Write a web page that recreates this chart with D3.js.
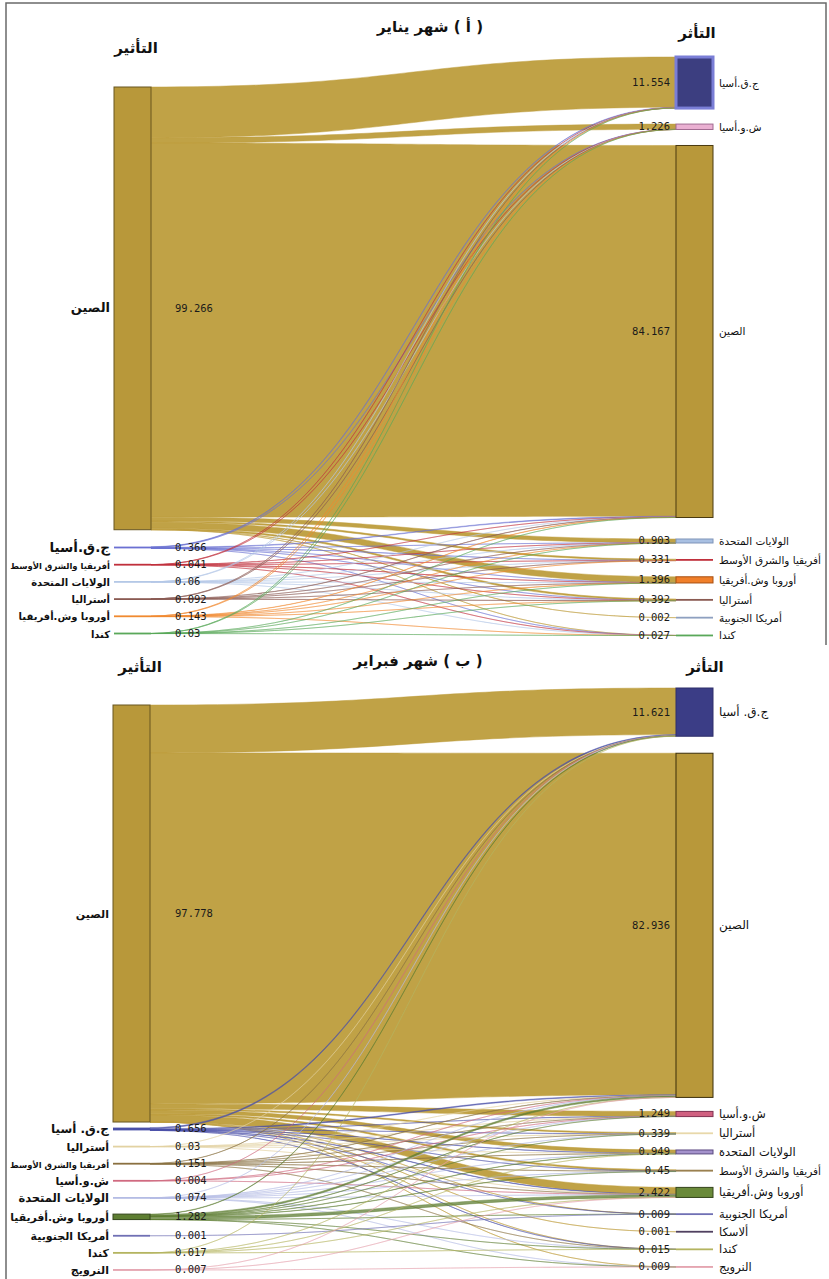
<!DOCTYPE html>
<html>
<head>
<meta charset="utf-8">
<script src="https://cdn.jsdelivr.net/npm/d3@7"></script>
<style>
body { margin: 0; background: #fff; }
</style>
</head>
<body>
<div id="screen"></div>
<script>
var width = 829;
var height = 1279;

// ---------- (a) January ----------
var leftNamesA = ["الصين", "ج.ق.أسيا", "أفريقيا والشرق الأوسط", "الولايات المتحدة", "أستراليا", "أوروبا وش.أفريقيا", "كندا"];
var leftValuesA = [99.266, 0.366, 0.041, 0.06, 0.092, 0.143, 0.03];
var rightNamesA = ["ج.ق.أسيا", "ش.و.أسيا", "الصين", "الولايات المتحدة", "أفريقيا والشرق الأوسط", "أوروبا وش.أفريقيا", "أستراليا", "أمريكا الجنوبية", "كندا"];
var rightValuesA = [11.554, 1.226, 84.167, 0.903, 0.331, 1.396, 0.392, 0.002, 0.027];
// rows = left nodes, columns = right nodes
var flowsA = [
  [11.378, 1.184, 83.890, 0.846, 0.300, 1.324, 0.333, 0.002, 0.009],
  [0.120, 0.020, 0.150, 0.020, 0.010, 0.020, 0.020, 0, 0.006],
  [0.005, 0.004, 0.012, 0.003, 0.008, 0.006, 0.002, 0, 0.001],
  [0.010, 0.003, 0.020, 0.012, 0.002, 0.006, 0.003, 0, 0.004],
  [0.012, 0.004, 0.035, 0.006, 0.003, 0.007, 0.025, 0, 0],
  [0.025, 0.010, 0.050, 0.010, 0.008, 0.030, 0.007, 0, 0.003],
  [0.004, 0.001, 0.010, 0.006, 0, 0.003, 0.002, 0, 0.004]
];
var leftColorsA = ["#b8983a", "#6b70d2", "#c0303c", "#b4c8e6", "#8a5a52", "#f08a30", "#5aa85a"];
var rightColorsA = ["#3c3e80", "#eab0d2", "#b8983a", "#a9c0e2", "#c0303c", "#f07f2a", "#8a5a52", "#8ea0c0", "#5aa85a"];
var rightStrokesA = ["#7a7ed6", "#a06a90", "#4a3a10", "#7f94b8", "#8a2028", "#a84f10", "#5a3a32", "#6a7a98", "#3a7a3a"];

// ---------- (b) February ----------
var leftNamesB = ["الصين", "ج.ق. أسيا", "أستراليا", "أفريقيا والشرق الأوسط", "ش.و.أسيا", "الولايات المتحدة", "أوروبا وش.أفريقيا", "أمريكا الجنوبية", "كندا", "النرويج"];
var leftValuesB = [97.778, 0.656, 0.03, 0.151, 0.004, 0.074, 1.282, 0.001, 0.017, 0.007];
var rightNamesB = ["ج.ق. أسيا", "الصين", "ش.و.أسيا", "أستراليا", "الولايات المتحدة", "أفريقيا والشرق الأوسط", "أوروبا وش.أفريقيا", "أمريكا الجنوبية", "ألاسكا", "كندا", "النرويج"];
var rightValuesB = [11.621, 82.936, 1.249, 0.339, 0.949, 0.45, 2.422, 0.009, 0.001, 0.015, 0.009];
var flowsB = [
  [11.234, 82.290, 1.169, 0.283, 0.813, 0.337, 1.644, 0.004, 0.001, 0.001, 0.002],
  [0.250, 0.202, 0.030, 0.020, 0.040, 0.020, 0.090, 0.002, 0, 0.002, 0],
  [0.004, 0.010, 0.001, 0.010, 0.002, 0, 0.003, 0, 0, 0, 0],
  [0.020, 0.051, 0.005, 0.004, 0.010, 0.040, 0.020, 0, 0, 0.001, 0],
  [0.001, 0.001, 0.001, 0, 0, 0, 0.001, 0, 0, 0, 0],
  [0.010, 0.025, 0.003, 0.002, 0.020, 0.003, 0.008, 0, 0, 0.002, 0.001],
  [0.100, 0.350, 0.040, 0.020, 0.060, 0.050, 0.652, 0.002, 0, 0.005, 0.003],
  [0, 0, 0, 0, 0, 0, 0, 0.001, 0, 0, 0],
  [0.002, 0.005, 0, 0, 0.004, 0, 0.002, 0, 0, 0.004, 0],
  [0, 0.002, 0, 0, 0, 0, 0.002, 0, 0, 0, 0.003]
];
var leftColorsB = ["#b8983a", "#4a50a8", "#e2d2a2", "#8a7040", "#d06a80", "#b4bce4", "#5e7e32", "#7070b4", "#b4b460", "#e4a2ae"];
var rightColorsB = ["#3b3d86", "#b8983a", "#d06080", "#e8d8aa", "#a492cc", "#9a8050", "#6a8a3a", "#7070b4", "#504060", "#b4b460", "#e4a2ae"];
var rightStrokesB = ["#2e2f6a", "#3a2e0a", "#803050", "#b0a070", "#5a4a80", "#6a5530", "#34441a", "#4a4a80", "#302438", "#7a7a30", "#a06070"];

var gold = "#bd9d3c";
var nodeW = 37;
var minH = 1.8;

var panels = [
  {
    title: "( أ ) شهر يناير", titleX: 430, titleY: 32,
    headL: "التأثير", headLX: 136, headLY: 53,
    headR: "التأثر", headRX: 697, headRY: 38,
    lNames: leftNamesA, lValues: leftValuesA, rNames: rightNamesA, rValues: rightValuesA,
    flows: flowsA, lColors: leftColorsA, rColors: rightColorsA, rStrokes: rightStrokesA,
    kL: 4.46, kR: 4.42,
    left: {x: 114, top: 87, big: 1, bigPad: 0, smallTop: 546.6, smallPad: 15.4},
    right: {x: 676, top: 57, big: 3, bigPad: 16, smallTop: 539, smallPad: 16},
    lSize: [13, 13.5, 10, 10, 10, 10, 10], rSize: 10.5, rBigSize: 10.5
  },
  {
    title: "( ب ) شهر فبراير", titleX: 418, titleY: 666,
    headL: "التأثير", headLX: 140, headLY: 672,
    headR: "التأثر", headRX: 705, headRY: 672,
    lNames: leftNamesB, lValues: leftValuesB, rNames: rightNamesB, rValues: rightValuesB,
    flows: flowsB, lColors: leftColorsB, rColors: rightColorsB, rStrokes: rightStrokesB,
    kL: 4.265, kR: 4.15,
    left: {x: 113, top: 705, big: 1, bigPad: 0, smallTop: 1127.6, smallPad: 15.3},
    right: {x: 676, top: 688, big: 2, bigPad: 17, smallTop: 1111.4, smallPad: 15.8},
    lSize: [11, 12, 11, 10, 11, 11.5, 11.5, 11, 11, 11], rSize: 11.5, rBigSize: 12
  }
];

var svg = d3.select("#screen").append("svg")
  .attr("width", width)
  .attr("height", height)
  .style("display", "block")
  .style("background", "#fff");

// frame of the scanned page
svg.append("path")
  .attr("d", "M6," + height + "L6,3L826,3L826,645")
  .attr("fill", "none")
  .attr("stroke", "#6a6a6a")
  .attr("stroke-width", 1.5);

var layoutColumn = function (names, values, scale, cfg) {
  var y = cfg.top;
  return names.map(function (n, i) {
    if (i == cfg.big) y = cfg.smallTop;
    var h = Math.max(scale(values[i]), minH);
    var node = {name: n, value: values[i], index: i, x0: cfg.x, x1: cfg.x + nodeW, y0: y, y1: y + h, h: h};
    y = node.y1 + (i < cfg.big ? cfg.bigPad : cfg.smallPad);
    return node;
  });
};

var ribbon = function (l) {
  var p = d3.path();
  var x0 = l.source.x1, x1 = l.target.x0, xm = (x0 + x1) / 2;
  p.moveTo(x0, l.sy0);
  p.bezierCurveTo(xm, l.sy0, xm, l.ty0, x1, l.ty0);
  p.lineTo(x1, l.ty1);
  p.bezierCurveTo(xm, l.ty1, xm, l.sy1, x0, l.sy1);
  p.closePath();
  return p.toString();
};

// shrink a label if it would run past the page edge
var fitText = function (maxW) {
  return function () {
    var w = this.getComputedTextLength();
    if (w > maxW) {
      var s = +d3.select(this).attr("font-size");
      d3.select(this).attr("font-size", s * maxW / w);
    }
  };
};

var drawPanel = function (P) {
  var g = svg.append("g");
  var scaleL = d3.scaleLinear().domain([0, 100]).range([0, 100 * P.kL]);
  var scaleR = d3.scaleLinear().domain([0, 100]).range([0, 100 * P.kR]);

  var L = layoutColumn(P.lNames, P.lValues, scaleL, P.left);
  var R = layoutColumn(P.rNames, P.rValues, scaleR, P.right);

  var links = [];
  P.flows.forEach(function (row, i) {
    row.forEach(function (v, j) {
      if (v > 0) links.push({source: L[i], target: R[j], value: v, color: i == 0 ? gold : P.lColors[i]});
    });
  });

  // stack link ends inside the nodes
  L.forEach(function (n) {
    var out = links.filter(function (l) { return l.source === n; });
    var tot = d3.sum(out, function (l) { return scaleL(l.value); });
    var y = n.y0 + Math.max(0, (n.h - tot) / 2);
    out.forEach(function (l) { l.sy0 = y; y += scaleL(l.value); l.sy1 = y; });
  });
  R.forEach(function (n) {
    var inc = links.filter(function (l) { return l.target === n; });
    var tot = d3.sum(inc, function (l) { return scaleR(l.value); });
    var y = n.y0 + Math.max(0, (n.h - tot) / 2);
    inc.forEach(function (l) { l.ty0 = y; y += scaleR(l.value); l.ty1 = y; });
  });

  g.append("g").selectAll("path")
    .data(links)
    .enter().append("path")
    .attr("d", ribbon)
    .attr("fill", function (d) { return d.color; })
    .attr("fill-opacity", function (d) { return d.color == gold ? 0.95 : 0.75; })
    .attr("stroke", function (d) { return d.color; })
    .attr("stroke-opacity", function (d) { return d.color == gold ? 0.8 : 0.7; })
    .attr("stroke-width", 0.6);

  // nodes
  g.append("g").selectAll("rect")
    .data(L)
    .enter().append("rect")
    .attr("x", function (d) { return d.x0; })
    .attr("y", function (d) { return d.y0; })
    .attr("width", nodeW)
    .attr("height", function (d) { return d.h; })
    .attr("fill", function (d, i) { return P.lColors[i]; })
    .attr("stroke", function (d, i) { return i == 0 || d.h > 3 ? d3.color(P.lColors[i]).darker(1.6) : "none"; })
    .attr("stroke-width", 1);

  g.append("g").selectAll("rect")
    .data(R)
    .enter().append("rect")
    .attr("x", function (d) { return d.x0; })
    .attr("y", function (d) { return d.y0; })
    .attr("width", nodeW)
    .attr("height", function (d) { return d.h; })
    .attr("fill", function (d, i) { return P.rColors[i]; })
    .attr("stroke", function (d, i) { return d.h > 3 ? P.rStrokes[i] : "none"; })
    .attr("stroke-width", function (d, i) { return P.rColors[i] == "#3c3e80" ? 3 : 1; });

  // value labels
  g.append("g").selectAll("text")
    .data(L)
    .enter().append("text")
    .attr("x", 175)
    .attr("y", function (d) { return (d.y0 + d.y1) / 2 + 3.5; })
    .attr("font-family", "DejaVu Sans Mono, monospace")
    .attr("font-size", 10.5)
    .attr("fill", "#1a1a1a")
    .text(function (d) { return d.value; });

  g.append("g").selectAll("text")
    .data(R)
    .enter().append("text")
    .attr("x", P.right.x - 6)
    .attr("y", function (d) { return (d.y0 + d.y1) / 2 + 3.5; })
    .attr("text-anchor", "end")
    .attr("font-family", "DejaVu Sans Mono, monospace")
    .attr("font-size", 10.5)
    .attr("fill", "#1a1a1a")
    .text(function (d) { return d.value; });

  // node names
  g.append("g").selectAll("text")
    .data(L)
    .enter().append("text")
    .attr("x", P.left.x - 4)
    .attr("y", function (d) { return (d.y0 + d.y1) / 2 + 4; })
    .attr("text-anchor", "end")
    .attr("font-family", "DejaVu Sans, sans-serif")
    .attr("font-weight", "bold")
    .attr("font-size", function (d, i) { return P.lSize[i]; })
    .attr("fill", "#111")
    .text(function (d) { return d.name; })
    .each(fitText(P.left.x - 14));

  g.append("g").selectAll("text")
    .data(R)
    .enter().append("text")
    .attr("x", P.right.x + nodeW + 6)
    .attr("y", function (d) { return (d.y0 + d.y1) / 2 + 4; })
    .attr("font-family", "DejaVu Sans, sans-serif")
    .attr("font-size", function (d, i) { return i < P.right.big ? P.rBigSize : P.rSize; })
    .attr("fill", "#111")
    .text(function (d) { return d.name; })
    .each(fitText(width - (P.right.x + nodeW + 6) - 8));

  // headings
  g.append("text")
    .attr("x", P.titleX)
    .attr("y", P.titleY)
    .attr("text-anchor", "middle")
    .attr("direction", "rtl")
    .attr("font-family", "DejaVu Sans, sans-serif")
    .attr("font-weight", "bold")
    .attr("font-size", 15)
    .attr("fill", "#111")
    .text(P.title);

  g.append("text")
    .attr("x", P.headLX)
    .attr("y", P.headLY)
    .attr("text-anchor", "middle")
    .attr("font-family", "DejaVu Sans, sans-serif")
    .attr("font-weight", "bold")
    .attr("font-size", 15)
    .attr("fill", "#111")
    .text(P.headL);

  g.append("text")
    .attr("x", P.headRX)
    .attr("y", P.headRY)
    .attr("text-anchor", "middle")
    .attr("font-family", "DejaVu Sans, sans-serif")
    .attr("font-weight", "bold")
    .attr("font-size", 15)
    .attr("fill", "#111")
    .text(P.headR);
};

panels.forEach(drawPanel);
</script>
</body>
</html>
